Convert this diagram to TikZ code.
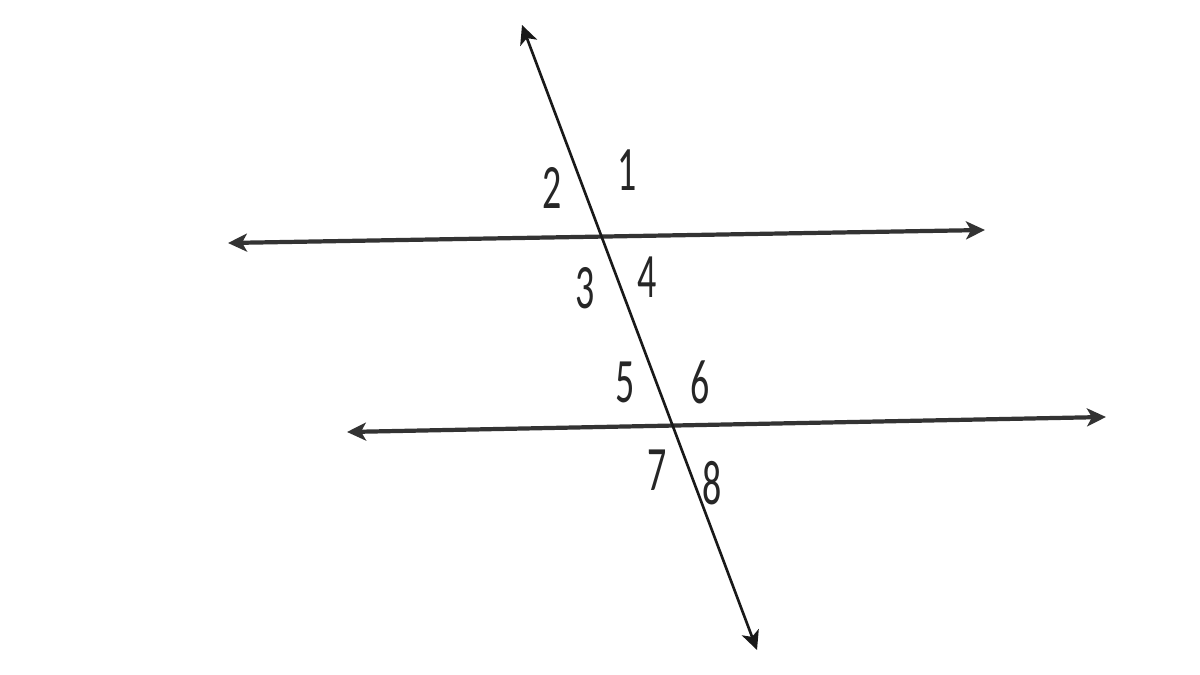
\documentclass[tikz,border=0pt]{standalone}
\usepackage{fontspec}
\setmainfont{Carlito}
\usetikzlibrary{arrows.meta}
\tikzset{
    tip/.style={Stealth[length=1.9mm, width=1.8mm, inset=0.5mm]},
    line/.style={{Stealth[length=1.9mm, width=1.8mm, inset=0.5mm]}-{Stealth[length=1.9mm, width=1.8mm, inset=0.5mm]}, line width=1.2pt, black!80},
    trans/.style={line, line width=0.75pt, black!90},
    angle/.style={font=\fontsize{18}{18}\selectfont, xscale=0.6, inner sep=0pt, text=black!85}
}
\begin{document}
\begin{tikzpicture}
      \useasboundingbox (0,0) rectangle (12,6.75);

      \path
          (2.28,4.32) coordinate (p-left)
          (9.85,4.45) coordinate (p-right)
          (3.47,2.43) coordinate (q-left)
          (11.06,2.58) coordinate (q-right)
          (5.22,6.50) coordinate (t-top)
          (7.57,0.25) coordinate (t-bottom);

      \draw[line] (p-left) -- (p-right);
      \draw[line] (q-left) -- (q-right);
      \draw[trans] (t-top) -- (t-bottom);

      \path
          (6.27,5.05) node[angle] (a1) {1}
          (5.52,4.87) node[angle] (a2) {2}
          (5.85,3.87) node[angle] (a3) {3}
          (6.47,3.98) node[angle] (a4) {4}
          (6.25,2.93) node[angle] (a5) {5}
          (7.00,2.93) node[angle] (a6) {6}
          (6.57,2.05) node[angle] (a7) {7}
          (7.12,1.92) node[angle] (a8) {8};
\end{tikzpicture}
\end{document}
